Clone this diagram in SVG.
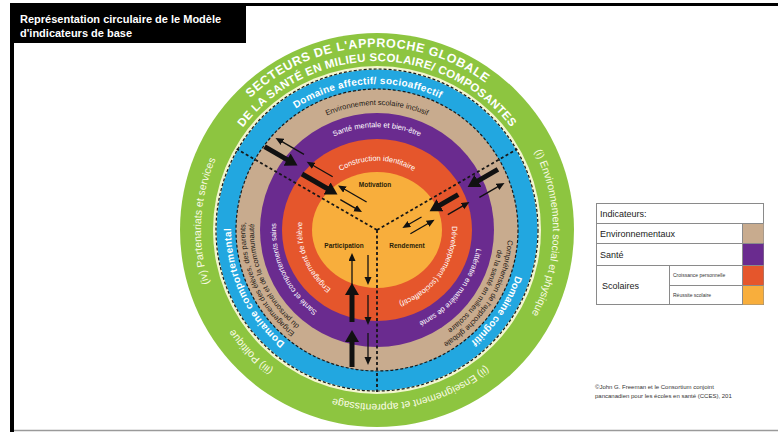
<svg xmlns="http://www.w3.org/2000/svg" xmlns:xlink="http://www.w3.org/1999/xlink" width="778" height="432" viewBox="0 0 778 432">
<style>
text{font-family:"Liberation Sans",Arial,sans-serif}
.gw{fill:#ffffff;font-weight:bold}
.gl{fill:#fbfbe6;font-size:10.5px}
.dom{fill:#ffffff;font-weight:bold;font-size:10px}
.env{fill:#1e1a16;font-size:7.5px}
.wt{fill:#ffffff;font-size:7.5px}
.yl{fill:#2a1e0a;font-size:6.5px;font-weight:bold;text-anchor:middle}
.thick{stroke:#111;stroke-width:5;fill:none;marker-end:url(#hk)}
.thin{stroke:#111;stroke-width:1.3;fill:none;marker-end:url(#hn)}
.dv{stroke:#161616;stroke-width:1.8;stroke-dasharray:3 2.5;fill:none}
.dc{stroke:#1a1a1a;stroke-width:1.2;stroke-dasharray:3 2;fill:none}
.lg{fill:none;stroke:#8a8a8a;stroke-width:1}
.lt{fill:#222;font-size:9px}
.ls{fill:#333;font-size:5px}
.cp{fill:#333;font-size:6px}
</style>
<defs>
<marker id="hk" markerUnits="userSpaceOnUse" markerWidth="13" markerHeight="14" refX="3" refY="7" orient="auto"><path d="M0,0 L12,7 L0,14 z" fill="#111"/></marker>
<marker id="hn" markerUnits="userSpaceOnUse" markerWidth="9" markerHeight="8" refX="2" refY="3.5" orient="auto"><path d="M0,0 L8,3.5 L0,7 z" fill="#111"/></marker>
<path id="p1" d="M195.8,204.5 A183,183 0 0 1 556.0,192.0"/>
<path id="p2" d="M210.6,200.7 A169,169 0 0 1 543.4,200.7"/>
<path id="p3" d="M410.6,57.2 A176,176 0 0 1 404.5,403.8"/>
<path id="p4" d="M550.9,223.9 A174,174 0 0 1 215.7,295.2"/>
<path id="p5" d="M474.3,374.2 A174,174 0 0 1 236.2,127.7"/>
<path id="p6" d="M337.4,401.5 A176,176 0 0 1 355.5,55.3"/>
<path id="p7" d="M231.8,214.7 A146,146 0 0 1 518.7,194.7"/>
<path id="p8" d="M478.4,125.0 A146,146 0 0 1 317.6,363.4"/>
<path id="p9" d="M414.8,371.0 A146,146 0 0 1 293.3,110.4"/>
<path id="p10" d="M253.9,208.3 A125,125 0 0 1 500.1,208.3"/>
<path id="p11" d="M464.7,132.7 A131,131 0 0 1 327.9,351.5"/>
<path id="p12" d="M458.6,139.3 A122,122 0 0 1 331.3,343.1"/>
<path id="p13" d="M408.9,358.0 A132,132 0 0 1 303.2,120.6"/>
<path id="p14" d="M406.8,349.3 A123,123 0 0 1 308.2,128.0"/>
<path id="p16" d="M275.6,212.1 A103,103 0 0 1 478.4,212.1"/>
<path id="p17" d="M452.1,162.4 A101,101 0 0 1 329.6,319.2"/>
<path id="p18" d="M403.1,327.6 A101,101 0 0 1 319.1,147.3"/>
<path id="p19" d="M309.0,218.0 A69,69 0 0 1 445.0,218.0"/>
<path id="p20" d="M430.0,177.0 A75,75 0 0 1 345.3,298.0"/>
<path id="p21" d="M393.9,303.1 A75,75 0 0 1 336.2,167.1"/>
</defs>

<rect x="0" y="0" width="778" height="432" fill="#ffffff"/>
<g id="frame">
<rect x="10" y="3" width="768" height="3" fill="#000"/>
<rect x="10" y="3" width="4" height="429" fill="#000"/>
<rect x="10" y="3" width="236" height="40" fill="#000"/>
<line x1="14" y1="430.5" x2="778" y2="430.5" stroke="#9a9a9a" stroke-width="1.5"/>
<text x="20" y="23" fill="#fff" font-size="11" font-weight="bold">Représentation circulaire de le Modèle</text>
<text x="20" y="37" fill="#fff" font-size="11" font-weight="bold">d'indicateurs de base</text>
</g>

<g id="ring-sectors">
<circle cx="377" cy="230" r="197" fill="#8dc540"/>
<circle cx="377" cy="230" r="164" fill="#f3f5cf"/>
<text class="gw" font-size="12.5" letter-spacing="0.6"><textPath xlink:href="#p1" href="#p1" startOffset="49%" text-anchor="middle">SECTEURS DE L'APPROCHE GLOBALE</textPath></text>
<text class="gw" font-size="11.5" letter-spacing="0.3"><textPath xlink:href="#p2" href="#p2" startOffset="50%" text-anchor="middle">DE LA SANTÉ EN MILIEU SCOLAIRE/ COMPOSANTES</textPath></text>
<text class="gl"><textPath xlink:href="#p3" href="#p3" startOffset="50%" text-anchor="middle">(i) Environnement social et physique</textPath></text>
<text class="gl"><textPath xlink:href="#p4" href="#p4" startOffset="50%" text-anchor="middle">(ii) Enseignement et apprentissage</textPath></text>
<text class="gl"><textPath xlink:href="#p5" href="#p5" startOffset="50%" text-anchor="middle">(iii) Politique</textPath></text>
<text class="gl"><textPath xlink:href="#p6" href="#p6" startOffset="50%" text-anchor="middle">(iv) Partenariats et services</textPath></text>
</g>

<g id="ring-domaines">
<circle cx="377" cy="230" r="160.5" fill="#22a7e0"/>
<text class="dom" font-size="10.5" letter-spacing="0.3"><textPath xlink:href="#p7" href="#p7" startOffset="50%" text-anchor="middle">Domaine affectif/ socioaffectif</textPath></text>
<text class="dom"><textPath xlink:href="#p8" href="#p8" startOffset="50%" text-anchor="middle">Domaine cognitif</textPath></text>
<text class="dom" letter-spacing="0.4"><textPath xlink:href="#p9" href="#p9" startOffset="50%" text-anchor="middle">Domaine comportemental</textPath></text>
</g>

<g id="ring-environnementaux">
<circle cx="377" cy="230" r="141" fill="#c8ab8e"/>
<text class="env" font-size="8"><textPath xlink:href="#p10" href="#p10" startOffset="50%" text-anchor="middle">Environnement scolaire inclusif</textPath></text>
<text class="env" font-size="7"><textPath xlink:href="#p11" href="#p11" startOffset="50%" text-anchor="middle">Compréhension de l'approche globale</textPath></text>
<text class="env" font-size="7"><textPath xlink:href="#p12" href="#p12" startOffset="50%" text-anchor="middle">de la santé en milieu scolaire</textPath></text>
<text class="env" font-size="7"><textPath xlink:href="#p13" href="#p13" startOffset="50%" text-anchor="middle">Engagement des élèves, des parents,</textPath></text>
<text class="env" font-size="7"><textPath xlink:href="#p14" href="#p14" startOffset="50%" text-anchor="middle">du personnel et de la communauté</textPath></text>
</g>

<g id="ring-sante">
<circle cx="377" cy="230" r="117" fill="#6a2b8f"/>
<text class="wt"><textPath xlink:href="#p16" href="#p16" startOffset="50%" text-anchor="middle">Santé mentale et bien-être</textPath></text>
<text class="wt"><textPath xlink:href="#p17" href="#p17" startOffset="50%" text-anchor="middle">Littératie en matière de santé</textPath></text>
<text class="wt"><textPath xlink:href="#p18" href="#p18" startOffset="50%" text-anchor="middle">Santé et comportements sains</textPath></text>
</g>

<g id="ring-croissance">
<ellipse cx="377" cy="230" rx="95" ry="91" fill="#e5562c"/>
<text class="wt"><textPath xlink:href="#p19" href="#p19" startOffset="50%" text-anchor="middle">Construction identitaire</textPath></text>
<text class="wt" font-size="6.5"><textPath xlink:href="#p20" href="#p20" startOffset="50%" text-anchor="middle">Développement (socioaffectif)</textPath></text>
<text class="wt" font-size="6.5"><textPath xlink:href="#p21" href="#p21" startOffset="50%" text-anchor="middle">Engagement de l'élève</textPath></text>
</g>

<g id="ring-reussite">
<ellipse cx="377" cy="230" rx="65" ry="58" fill="#f8ae3c"/>
<text class="yl" x="375" y="187">Motivation</text>
<text class="yl" x="344" y="248">Participation</text>
<text class="yl" x="407" y="248">Rendement</text>
</g>

<g id="connectors">
<circle class="dc" cx="377" cy="230" r="161"/>
<circle class="dc" cx="377" cy="230" r="141"/>
<path class="dv" d="M377,230 L236.7,149 M377,230 L517.3,149 M377,230 L377,392"/>
<line class="thick" x1="264.6" y1="146.6" x2="289.7" y2="161.1"/>
<line class="thick" x1="302.0" y1="174.0" x2="329.7" y2="190.0"/>
<line class="thin" x1="304.0" y1="154.4" x2="280.7" y2="140.9"/>
<line class="thin" x1="332.7" y1="176.7" x2="311.9" y2="164.7"/>
<line class="thin" x1="366.6" y1="202.0" x2="343.2" y2="188.5"/>
<line class="thin" x1="340.3" y1="199.6" x2="356.8" y2="209.1"/>
<line class="thick" x1="497.9" y1="169.4" x2="475.4" y2="182.4"/>
<line class="thick" x1="458.2" y1="194.7" x2="437.4" y2="206.7"/>
<line class="thin" x1="479.4" y1="197.4" x2="499.3" y2="185.9"/>
<line class="thin" x1="447.8" y1="214.6" x2="464.2" y2="205.1"/>
<line class="thin" x1="410.4" y1="233.8" x2="429.4" y2="222.8"/>
<line class="thin" x1="421.5" y1="217.0" x2="407.6" y2="225.0"/>
<line class="thick" x1="352" y1="367" x2="352" y2="339"/>
<line class="thick" x1="352" y1="322" x2="352" y2="292"/>
<line class="thin" x1="352" y1="287" x2="352" y2="259"/>
<line class="thin" x1="368" y1="255" x2="368" y2="279"/>
<line class="thin" x1="368" y1="295" x2="368" y2="319"/>
<line class="thin" x1="368" y1="333" x2="368" y2="359"/>
</g>

<g id="legend">
<rect class="lg" x="596.5" y="203.5" width="167" height="101" fill="#fff"/>
<rect x="743" y="223" width="20.5" height="20" fill="#c8ab8e"/>
<rect x="743" y="243" width="20.5" height="22" fill="#6a2b8f"/>
<rect x="743" y="265" width="20.5" height="20" fill="#e5562c"/>
<rect x="743" y="285" width="20.5" height="19.5" fill="#f8ae3c"/>
<path class="lg" d="M596.5,223.5 H763.5 M596.5,243.5 H763.5 M596.5,265.5 H763.5 M669.5,285.5 H763.5 M742.5,223.5 V304.5 M669.5,265.5 V304.5"/>
<text class="lt" x="600" y="217">Indicateurs:</text>
<text class="lt" x="600" y="237">Environnementaux</text>
<text class="lt" x="600" y="258">Santé</text>
<text class="lt" x="602" y="289">Scolaires</text>
<text class="ls" x="673" y="277">Croissance personnelle</text>
<text class="ls" x="673" y="297">Réussite scolaire</text>
</g>

<g id="credit">
<text class="cp" x="595" y="389">©John G. Freeman et le Consortium conjoint</text>
<text class="cp" x="595" y="398">pancanadien pour les écoles en santé (CCES), 201</text>
</g>
</svg>
